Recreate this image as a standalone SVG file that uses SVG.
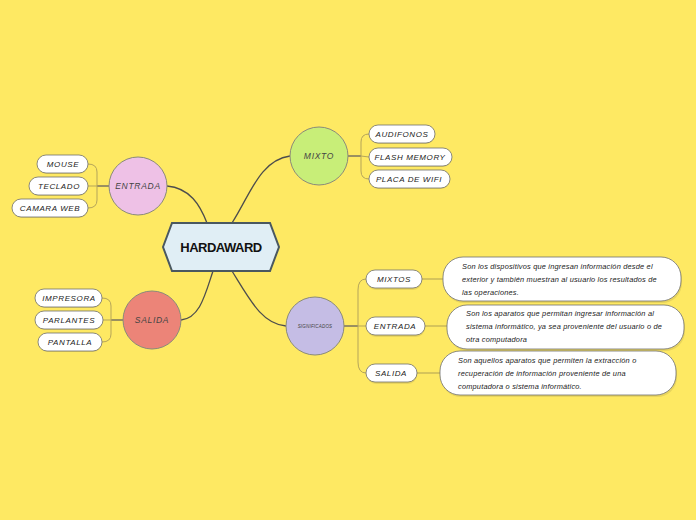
<svg xmlns="http://www.w3.org/2000/svg" width="696" height="520" viewBox="0 0 696 520">
<style>
.main{fill:none;stroke:#4d4d4d;stroke-width:1.3}
.br{fill:none;stroke:#b5a55a;stroke-width:1}
.stem{fill:none;stroke:#9a9060;stroke-width:2}
.dl{fill:none;stroke:#c9b85a;stroke-width:1.5}
.pill{fill:#ffffff;stroke:#6e6e6e;stroke-width:0.8}
.shadow{fill:#d8c75a;opacity:0.6}
.circ{stroke:#8a8a7a;stroke-width:1}
.lt{font-family:"Liberation Sans",Arial,sans-serif;font-style:italic;font-size:8px;fill:#222;text-anchor:middle;letter-spacing:0.6px}
.ct{font-family:"Liberation Sans",Arial,sans-serif;font-style:italic;font-size:8.5px;fill:#444;text-anchor:middle;letter-spacing:0.7px}
.dt{font-family:"Liberation Sans",Arial,sans-serif;font-style:italic;font-size:7.4px;fill:#1a1a1a;letter-spacing:0.2px}
</style>
<rect width="696" height="520" fill="#fee963"/>
<g id="connectors">
<path class="main" d="M207,223 C200,205 190,188 167,186"/>
<path class="main" d="M232,223 C250,195 260,160 290,156"/>
<path class="main" d="M213,271 C205,295 200,318 181,320"/>
<path class="main" d="M232,271 C250,300 262,324 286,326"/>
<path class="stem" d="M109,186 L97,186"/>
<path class="br" d="M97,186 L97,172 Q97,164 88,164 M97,186 L88,186 M97,186 L97,200 Q97,208 88,208"/>
<path class="stem" d="M348,156 L361,156"/>
<path class="br" d="M361,156 L361,142 Q361,134 369,134 M361,156 L369,157 M361,156 L361,171 Q361,179 369,179"/>
<path class="stem" d="M123,320 L111,320"/>
<path class="br" d="M111,320 L111,306 Q111,298 102,298 M111,320 L103,320 M111,320 L111,334 Q111,342 102,342"/>
<path class="stem" d="M344,326 L358,326"/>
<path class="br" d="M358,326 L358,290 Q358,279 366,279 M358,326 L366,326 M358,326 L358,362 Q358,373 366,373"/>
<path class="dl" d="M422,279 L443,279 M425,326 L447,326 M417,373 L440,373"/>
</g>
<g id="central">
<polygon points="163,247 172,223 270,223 279,247 270,271 172,271" fill="#e0eef5" stroke="#4a5860" stroke-width="2"/>
<text x="221" y="252" font-family="'Liberation Sans',Arial,sans-serif" font-size="13" font-weight="bold" fill="#111" text-anchor="middle" letter-spacing="-0.5">HARDAWARD</text>
</g>
<g id="entrada">
<circle class="circ" cx="138" cy="186" r="29" fill="#eec1e6"/>
<text class="ct" x="138" y="189">ENTRADA</text>
</g>
<g id="mixto">
<circle class="circ" cx="319" cy="156" r="29" fill="#c8ee78"/>
<text class="ct" x="319" y="159">MIXTO</text>
</g>
<g id="salida">
<circle class="circ" cx="152" cy="320" r="29" fill="#ec8478"/>
<text class="ct" x="152" y="323">SALIDA</text>
</g>
<g id="significados">
<circle class="circ" cx="315" cy="326" r="29" fill="#c5bde5"/>
<text class="ct" x="315" y="328" style="font-size:4.5px;letter-spacing:0.2px">SIGNIFICADOS</text>
</g>
<g id="mouse"><rect class="shadow" x="38" y="156" width="50" height="18" rx="9"/><rect class="pill" x="37" y="155" width="51" height="18" rx="9"/><text class="lt" x="63" y="167">MOUSE</text></g>
<g id="teclado"><rect class="shadow" x="30" y="178" width="58" height="18" rx="9"/><rect class="pill" x="29" y="177" width="59" height="18" rx="9"/><text class="lt" x="59" y="189">TECLADO</text></g>
<g id="camara"><rect class="shadow" x="13" y="200" width="75" height="18" rx="9"/><rect class="pill" x="12" y="199" width="76" height="18" rx="9"/><text class="lt" x="50" y="211">CAMARA WEB</text></g>
<g id="audifonos"><rect class="shadow" x="370" y="126" width="65" height="18" rx="9"/><rect class="pill" x="369" y="125" width="66" height="18" rx="9"/><text class="lt" x="402" y="137">AUDIFONOS</text></g>
<g id="flash"><rect class="shadow" x="370" y="149" width="82" height="18" rx="9"/><rect class="pill" x="369" y="148" width="83" height="18" rx="9"/><text class="lt" x="410" y="160">FLASH MEMORY</text></g>
<g id="placa"><rect class="shadow" x="370" y="171" width="80" height="18" rx="9"/><rect class="pill" x="369" y="170" width="81" height="18" rx="9"/><text class="lt" x="409" y="182">PLACA DE WIFI</text></g>
<g id="impresora"><rect class="shadow" x="36" y="290" width="66" height="18" rx="9"/><rect class="pill" x="35" y="289" width="67" height="18" rx="9"/><text class="lt" x="69" y="301">IMPRESORA</text></g>
<g id="parlantes"><rect class="shadow" x="36" y="312" width="67" height="18" rx="9"/><rect class="pill" x="35" y="311" width="68" height="18" rx="9"/><text class="lt" x="69" y="323">PARLANTES</text></g>
<g id="pantalla"><rect class="shadow" x="39" y="334" width="63" height="18" rx="9"/><rect class="pill" x="38" y="333" width="64" height="18" rx="9"/><text class="lt" x="70" y="345">PANTALLA</text></g>
<g id="mixtos"><rect class="shadow" x="367" y="272" width="55" height="18" rx="9"/><rect class="pill" x="366" y="270" width="56" height="18" rx="9"/><text class="lt" x="394" y="282">MIXTOS</text></g>
<g id="entrada2"><rect class="shadow" x="367" y="319" width="58" height="18" rx="9"/><rect class="pill" x="366" y="317" width="59" height="18" rx="9"/><text class="lt" x="395" y="329">ENTRADA</text></g>
<g id="salida2"><rect class="shadow" x="367" y="366" width="50" height="18" rx="9"/><rect class="pill" x="366" y="364" width="51" height="18" rx="9"/><text class="lt" x="391" y="376">SALIDA</text></g>
<g id="desc1"><rect class="shadow" x="444" y="259" width="238" height="44" rx="20"/><rect class="pill" x="443" y="257" width="238" height="44" rx="20"/>
<text class="dt" x="462" y="269">Son los dispositivos que ingresan información desde el</text>
<text class="dt" x="462" y="282">exterior y también muestran al usuario los resultados de</text>
<text class="dt" x="462" y="295">las operaciones.</text></g>
<g id="desc2"><rect class="shadow" x="448" y="307" width="237" height="44" rx="20"/><rect class="pill" x="447" y="305" width="237" height="44" rx="20"/>
<text class="dt" x="466" y="316">Son los aparatos que permitan ingresar información al</text>
<text class="dt" x="466" y="329">sistema informático, ya sea proveniente del usuario o de</text>
<text class="dt" x="466" y="342">otra computadora</text></g>
<g id="desc3"><rect class="shadow" x="441" y="353" width="236" height="44" rx="20"/><rect class="pill" x="440" y="351" width="236" height="44" rx="20"/>
<text class="dt" x="458" y="363">Son aquellos aparatos que permiten la extracción o</text>
<text class="dt" x="458" y="376">recuperación de información proveniente de una</text>
<text class="dt" x="458" y="389">computadora o sistema informático.</text></g>
</svg>
